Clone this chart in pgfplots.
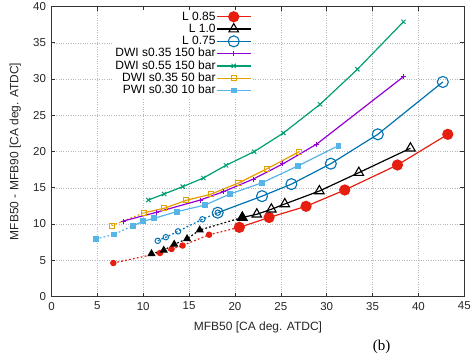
\documentclass[border=0pt]{standalone}
\usepackage{pgfplots}
\pgfplotsset{compat=1.18}
\usepackage{fontspec}
\setmainfont{Liberation Sans}
\newfontfamily\seriffont{Liberation Serif}
\definecolor{cred}{HTML}{E51E10}
\definecolor{cblue}{HTML}{0072B2}
\definecolor{cpurple}{HTML}{9400D3}
\definecolor{cgreen}{HTML}{009E73}
\definecolor{corange}{HTML}{E69F00}
\definecolor{clblue}{HTML}{56B4E9}
\begin{document}
\begin{tikzpicture}
\path[use as bounding box] (-51.5pt,-63.5pt) rectangle (420.5pt,296.5pt);
\begin{axis}[
  at={(0,0)}, anchor=south west,
  scale only axis, width=412.8pt, height=290pt,
  xmin=0, xmax=45, ymin=0, ymax=40,
  xtick={0,5,...,45}, ytick={0,5,...,40},
  grid=major, grid style={dotted, gray!55, line width=0.5pt},
  tick align=inside, major tick length=4pt,
  tick style={black!80, line width=0.6pt},
  axis line style={black!80, line width=0.9pt},
  /pgf/number format/assume math mode=true,
  tick label style={font=\fontsize{11.5}{13}\selectfont, text=black!85},
  xticklabel style={yshift=-2pt},
  yticklabel style={xshift=-2pt},
  label style={font=\fontsize{12}{14}\selectfont, text=black!85},
  xlabel={MFB50 [CA deg. ATDC]},
  ylabel={MFB50 - MFB90 [CA deg. ATDC]},
  xlabel style={at={(axis description cs:0.5,-0.105)}, anchor=center},
  ylabel style={at={(axis description cs:-0.088,0.5)}, anchor=center},
  legend style={at={(axis description cs:0.487,0.99)}, anchor=north east,
    draw=none, fill=white, font=\fontsize{12}{14}\selectfont,
    legend cell align=right, row sep=0pt, inner sep=1pt,
    nodes={inner sep=0.6pt, text height=8.8pt, text depth=2.3pt}},
  legend plot pos=right,
  legend image code/.code={\draw[mark repeat=2, mark phase=2, #1] plot coordinates {(0pt,0pt) (17pt,0pt) (34pt,0pt)};},
]
% ---- dotted (early) parts
\addplot[forget plot, cred, line width=1.2pt, dash pattern=on 1.8pt off 2.2pt, mark=*, mark size=2.6pt, mark options={solid, fill=cred}]
  coordinates {(6.74,4.62) (11.83,6.0) (13.09,6.55) (14.29,7.03) (17.18,8.52) (20.48,9.54)};
\addplot[forget plot, black, line width=1.2pt, dash pattern=on 1.8pt off 2.2pt, mark=triangle*, mark size=3.6pt, mark options={solid, fill=black}]
  coordinates {(10.9,5.9) (12.24,6.37) (13.38,7.2) (14.78,7.96) (16.16,9.17) (20.8,10.9)};
\addplot[forget plot, cblue, line width=1.2pt, dash pattern=on 1.8pt off 2.2pt, mark=o, mark size=2.7pt, mark options={solid, line width=1pt}]
  coordinates {(11.58,7.68) (12.46,8.18) (13.79,8.99) (16.45,10.65) (18.12,11.56)};
\addplot[forget plot, corange, line width=1.2pt, dash pattern=on 1.8pt off 2.2pt, mark=square, mark size=2.6pt, mark options={solid, line width=0.9pt}]
  coordinates {(6.56,9.77) (10.12,11.56)};
\addplot[forget plot, clblue, line width=1.2pt, dash pattern=on 1.8pt off 2.2pt, mark=square*, mark size=2.3pt, mark options={solid, fill=clblue}]
  coordinates {(4.82,7.93) (6.8,8.55) (8.85,9.74)};
% ---- main series
\addplot[cred, line width=1.2pt, mark=*, mark size=5pt, mark options={fill=cred}]
  coordinates {(20.48,9.54) (23.72,10.9) (27.75,12.44) (31.97,14.69) (37.71,18.14) (43.2,22.37)};
\addlegendentry{L 0.85}
\addplot[black, line width=1.2pt, mark=triangle, mark size=5.5pt, mark options={line width=1.1pt}]
  coordinates {(20.8,10.9) (22.38,11.34) (23.97,12.03) (25.43,12.76) (29.2,14.55) (33.5,17.08) (39.13,20.45)};
\addlegendentry{L 1.0}
\addplot[cblue, line width=1.2pt, mark=o, mark size=5.5pt, mark options={line width=1.1pt}]
  coordinates {(18.12,11.56) (22.95,13.84) (26.15,15.5) (30.45,18.32) (35.57,22.37) (42.66,29.59)};
\addlegendentry{L 0.75}
\addplot[cpurple, line width=1.2pt, mark=+, mark size=2.5pt, mark options={line width=1pt}]
  coordinates {(7.8,10.4) (11.4,11.6) (16.2,13.3) (18.74,14.45) (22.0,16.2) (25.21,18.28) (28.92,21.03) (38.37,30.32)};
\addlegendentry{DWI s0.35 150 bar}
\addplot[cgreen, line width=1.2pt, mark=x, mark size=3pt, mark options={line width=1pt}]
  coordinates {(10.56,13.31) (12.27,14.14) (14.31,15.15) (16.55,16.34) (19.03,18.1) (22.08,19.97) (25.28,22.55) (29.28,26.51) (33.35,31.34) (38.37,37.9)};
\addlegendentry{DWI s0.55 150 bar}
\addplot[corange, line width=1.2pt, mark=square, mark size=2.6pt, mark options={line width=0.9pt}]
  coordinates {(10.12,11.56) (12.3,12.17) (14.7,13.27) (17.36,14.1) (20.37,15.65) (23.47,17.6) (26.99,19.97)};
\addlegendentry{DWI s0.35 50 bar}
\addplot[clblue, line width=1.2pt, mark=square*, mark size=2.3pt, mark options={fill=clblue}]
  coordinates {(8.85,9.74) (10.0,10.38) (11.2,10.79) (13.65,11.7) (16.7,12.6) (19.5,14.16) (22.98,15.7) (26.91,18.04) (31.28,20.8)};
\addlegendentry{PWI s0.30 10 bar}
\addplot[forget plot, only marks, black, mark=triangle*, mark size=5.5pt, mark options={fill=black}]
  coordinates {(20.8,10.9)};
\end{axis}
\node[font=\seriffont\fontsize{15}{18}\selectfont] at (330.2pt,-50.2pt) {(b)};
\end{tikzpicture}
\end{document}
